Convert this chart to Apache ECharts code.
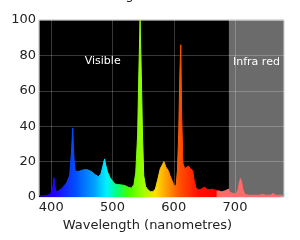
<!DOCTYPE html>
<html>
<head>
<meta charset="utf-8">
<style>
  html, body { margin: 0; padding: 0; background: #fff; }
  #chart { width: 300px; height: 240px; }
</style>
<script src="https://cdn.jsdelivr.net/npm/echarts@6/dist/echarts.min.js"></script>
</head>
<body>
<div id="chart"></div>
<script>
// wavelength in nm, intensity in arbitrary units
var wavelengths = [380, 390, 398, 402, 404.5, 406, 408, 412, 418, 425, 430, 433, 435, 437, 439,
  445, 452, 458, 465, 472, 477, 481, 484, 487, 489, 492, 496, 500, 504, 510, 515, 520, 526, 531,
  535, 538, 541, 543, 545, 547, 549, 551, 554, 558, 562, 566, 570, 574, 578, 581, 584, 587, 591,
  594, 597, 600, 602, 604, 606, 608, 610, 611.5, 613, 615, 618, 621, 624, 627, 631, 633, 636, 640,
  645, 650, 654, 658, 662, 666, 672, 678, 684, 689, 692, 697, 702, 705, 707, 709, 711, 713, 716,
  722, 730, 740, 745, 750, 758, 762, 766, 772, 780];
var intensity = [0.5, 0.8, 1.5, 4, 11, 6, 3, 3.5, 5, 8, 12, 25, 39, 22, 14.5,
  14.5, 15.3, 15.5, 14.5, 12.5, 11.5, 13, 17, 21.5, 18, 14, 11, 9, 7.3, 7, 6.8, 6.5, 5.5, 5,
  7, 14, 35, 70, 100, 70, 35, 12, 6, 4, 3, 3, 4.5, 10, 16, 18, 20, 17, 15,
  12, 9.5, 7, 5.8, 7, 15, 35, 70, 86, 45, 19, 16, 17, 17.5, 16, 15, 10, 5.5, 4,
  4.5, 5.5, 4.5, 4, 4.5, 4, 3.5, 3, 3.5, 4.5, 2.5, 2, 1.5, 4, 8, 10.5, 8, 4, 1.5,
  1, 1, 1, 1.5, 1, 1, 2, 1, 1, 1];
var xTicks = [400, 500, 600, 700];
var yTicks = [0, 20, 40, 60, 80, 100];
var infraStart = 690;

var chart = echarts.init(document.getElementById('chart'));

var spectrum = [];
for (var i = 0; i < wavelengths.length; i++) {
    spectrum.push([wavelengths[i], intensity[i]]);
}

// rainbow fill, left to right over 380..780
var rainbow = new echarts.graphic.LinearGradient(0, 0, 1, 0, [
    { offset: 0, color: '#1a00a0' },
    { offset: 0.0625, color: '#2200ff' },
    { offset: 0.15, color: '#0050ff' },
    { offset: 0.225, color: '#00a0ff' },
    { offset: 0.275, color: '#00f0ff' },
    { offset: 0.3125, color: '#00ff90' },
    { offset: 0.3625, color: '#40ff00' },
    { offset: 0.425, color: '#a0ff00' },
    { offset: 0.475, color: '#ffe000' },
    { offset: 0.525, color: '#ff9800' },
    { offset: 0.575, color: '#ff5000' },
    { offset: 0.65, color: '#ff1000' },
    { offset: 0.7225, color: '#ff0000' },
    { offset: 0.7275, color: '#ff6a6a' },
    { offset: 1, color: '#ff6a6a' }
]);

var font = 'DejaVu Sans';

chart.setOption({
    animation: false,
    title: {
        text: 'Wavelength (nanometres)',
        left: 65,
        top: -16,
        textStyle: { fontFamily: font, fontSize: 13, fontWeight: 'normal', color: '#222' }
    },
    grid: {
        left: 39, right: 16, top: 20, bottom: 43,
        outerBoundsMode: 'none',
        containLabel: false,
        show: true, backgroundColor: '#000', borderColor: '#bbb', borderWidth: 1
    },
    xAxis: {
        type: 'value',
        min: 380,
        max: 780,
        name: 'Wavelength (nanometres)',
        nameLocation: 'middle',
        nameGap: 19,
        nameTextStyle: { fontFamily: font, fontSize: 13, color: '#222', padding: [0, 28, 0, 0] },
        axisLine: { show: false },
        axisTick: { show: false },
        axisLabel: {
            fontFamily: font, fontSize: 13, color: '#222', margin: 4,
            showMinLabel: false, showMaxLabel: false,
            formatter: function (v) { return xTicks.indexOf(v) >= 0 ? String(v) : ''; }
        },
        splitLine: { show: true, lineStyle: { color: 'rgba(255,255,255,0.22)', width: 1 } }
    },
    yAxis: {
        type: 'value',
        min: yTicks[0],
        max: yTicks[yTicks.length - 1],
        interval: 20,
        name: 'Intensity (arbitrary units)',
        nameLocation: 'middle',
        nameGap: 24,
        nameTextStyle: { fontFamily: font, fontSize: 13, color: '#222' },
        axisLine: { show: false },
        axisTick: { show: false },
        axisLabel: { fontFamily: font, fontSize: 13, color: '#222', margin: 3 },
        splitLine: { show: true, lineStyle: { color: 'rgba(255,255,255,0.22)', width: 1 } }
    },
    series: [
        {
            // grey infra red band
            type: 'line',
            data: [],
            z: 1,
            markArea: {
                silent: true,
                itemStyle: { color: 'rgba(255,255,255,0.42)' },
                data: [[{ xAxis: infraStart }, { xAxis: 780 }]]
            }
        },
        {
            type: 'line',
            z: 2,
            data: spectrum,
            symbol: 'none',
            smooth: false,
            sampling: null,
            lineStyle: { width: 1, color: rainbow },
            areaStyle: { color: rainbow, opacity: 1 },
            markPoint: {
                symbol: 'circle',
                symbolSize: 0,
                silent: true,
                label: {
                    show: true, position: 'inside', color: '#fff',
                    fontFamily: font, fontSize: 11,
                    formatter: function (p) { return p.name; }
                },
                data: [
                    { name: 'Visible', coord: [484, 77] },
                    { name: 'Infra red', coord: [735, 76] }
                ]
            }
        }
    ]
});
</script>
</body>
</html>
